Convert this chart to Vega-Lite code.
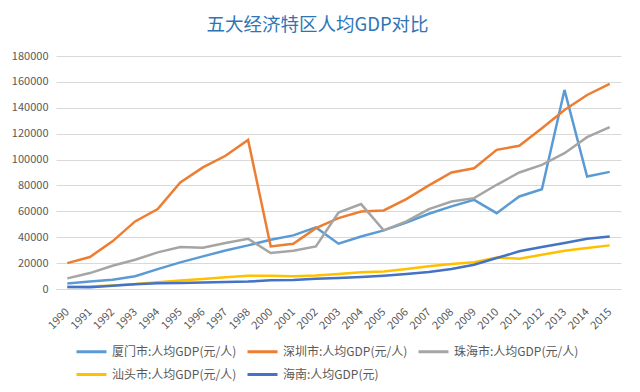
{
  "$schema": "https://vega.github.io/schema/vega-lite/v6.json",
  "width": 565,
  "height": 233,
  "padding": {"left": 11, "top": 15, "right": 17, "bottom": 5},
  "background": "white",
  "title": {
    "text": "五大经济特区人均GDP对比",
    "font": "Noto Sans CJK SC",
    "fontSize": 18.5,
    "fontWeight": "normal",
    "color": "#2E75B6",
    "anchor": "middle",
    "offset": 16,
    "dx": -21
  },
  "config": {
    "view": {"stroke": null},
    "axis": {"labelFont": "Noto Sans CJK SC", "labelColor": "#595959", "labelFontSize": 11},
    "legend": {"labelFont": "Noto Sans CJK SC"}
  },
  "data": {
    "values": [
      {"年份": "1990", "城市": "厦门市:人均GDP(元/人)", "值": 4300},
      {"年份": "1991", "城市": "厦门市:人均GDP(元/人)", "值": 5800},
      {"年份": "1992", "城市": "厦门市:人均GDP(元/人)", "值": 7200},
      {"年份": "1993", "城市": "厦门市:人均GDP(元/人)", "值": 9800},
      {"年份": "1994", "城市": "厦门市:人均GDP(元/人)", "值": 15400},
      {"年份": "1995", "城市": "厦门市:人均GDP(元/人)", "值": 20600},
      {"年份": "1996", "城市": "厦门市:人均GDP(元/人)", "值": 25200},
      {"年份": "1997", "城市": "厦门市:人均GDP(元/人)", "值": 29800},
      {"年份": "1998", "城市": "厦门市:人均GDP(元/人)", "值": 33700},
      {"年份": "2000", "城市": "厦门市:人均GDP(元/人)", "值": 38100},
      {"年份": "2001", "城市": "厦门市:人均GDP(元/人)", "值": 41400},
      {"年份": "2002", "城市": "厦门市:人均GDP(元/人)", "值": 47600},
      {"年份": "2003", "城市": "厦门市:人均GDP(元/人)", "值": 35000},
      {"年份": "2004", "城市": "厦门市:人均GDP(元/人)", "值": 40600},
      {"年份": "2005", "城市": "厦门市:人均GDP(元/人)", "值": 45300},
      {"年份": "2006", "城市": "厦门市:人均GDP(元/人)", "值": 51400},
      {"年份": "2007", "城市": "厦门市:人均GDP(元/人)", "值": 58100},
      {"年份": "2008", "城市": "厦门市:人均GDP(元/人)", "值": 63800},
      {"年份": "2009", "城市": "厦门市:人均GDP(元/人)", "值": 68900},
      {"年份": "2010", "城市": "厦门市:人均GDP(元/人)", "值": 58600},
      {"年份": "2011", "城市": "厦门市:人均GDP(元/人)", "值": 71500},
      {"年份": "2012", "城市": "厦门市:人均GDP(元/人)", "值": 77100},
      {"年份": "2013", "城市": "厦门市:人均GDP(元/人)", "值": 153800},
      {"年份": "2014", "城市": "厦门市:人均GDP(元/人)", "值": 86900},
      {"年份": "2015", "城市": "厦门市:人均GDP(元/人)", "值": 90500},

      {"年份": "1990", "城市": "深圳市:人均GDP(元/人)", "值": 20000},
      {"年份": "1991", "城市": "深圳市:人均GDP(元/人)", "值": 24700},
      {"年份": "1992", "城市": "深圳市:人均GDP(元/人)", "值": 36800},
      {"年份": "1993", "城市": "深圳市:人均GDP(元/人)", "值": 52200},
      {"年份": "1994", "城市": "深圳市:人均GDP(元/人)", "值": 61700},
      {"年份": "1995", "城市": "深圳市:人均GDP(元/人)", "值": 82300},
      {"年份": "1996", "城市": "深圳市:人均GDP(元/人)", "值": 93900},
      {"年份": "1997", "城市": "深圳市:人均GDP(元/人)", "值": 102900},
      {"年份": "1998", "城市": "深圳市:人均GDP(元/人)", "值": 115200},
      {"年份": "2000", "城市": "深圳市:人均GDP(元/人)", "值": 32900},
      {"年份": "2001", "城市": "深圳市:人均GDP(元/人)", "值": 35000},
      {"年份": "2002", "城市": "深圳市:人均GDP(元/人)", "值": 47000},
      {"年份": "2003", "城市": "深圳市:人均GDP(元/人)", "值": 54800},
      {"年份": "2004", "城市": "深圳市:人均GDP(元/人)", "值": 59900},
      {"年份": "2005", "城市": "深圳市:人均GDP(元/人)", "值": 60700},
      {"年份": "2006", "城市": "深圳市:人均GDP(元/人)", "值": 69400},
      {"年份": "2007", "城市": "深圳市:人均GDP(元/人)", "值": 80000},
      {"年份": "2008", "城市": "深圳市:人均GDP(元/人)", "值": 90000},
      {"年份": "2009", "城市": "深圳市:人均GDP(元/人)", "值": 93300},
      {"年份": "2010", "城市": "深圳市:人均GDP(元/人)", "值": 107500},
      {"年份": "2011", "城市": "深圳市:人均GDP(元/人)", "值": 110600},
      {"年份": "2012", "城市": "深圳市:人均GDP(元/人)", "值": 124200},
      {"年份": "2013", "城市": "深圳市:人均GDP(元/人)", "值": 138300},
      {"年份": "2014", "城市": "深圳市:人均GDP(元/人)", "值": 149900},
      {"年份": "2015", "城市": "深圳市:人均GDP(元/人)", "值": 158400},

      {"年份": "1990", "城市": "珠海市:人均GDP(元/人)", "值": 8200},
      {"年份": "1991", "城市": "珠海市:人均GDP(元/人)", "值": 12300},
      {"年份": "1992", "城市": "珠海市:人均GDP(元/人)", "值": 18000},
      {"年份": "1993", "城市": "珠海市:人均GDP(元/人)", "值": 22600},
      {"年份": "1994", "城市": "珠海市:人均GDP(元/人)", "值": 28300},
      {"年份": "1995", "城市": "珠海市:人均GDP(元/人)", "值": 32400},
      {"年份": "1996", "城市": "珠海市:人均GDP(元/人)", "值": 31900},
      {"年份": "1997", "城市": "珠海市:人均GDP(元/人)", "值": 35500},
      {"年份": "1998", "城市": "珠海市:人均GDP(元/人)", "值": 38800},
      {"年份": "2000", "城市": "珠海市:人均GDP(元/人)", "值": 27800},
      {"年份": "2001", "城市": "珠海市:人均GDP(元/人)", "值": 29600},
      {"年份": "2002", "城市": "珠海市:人均GDP(元/人)", "值": 32900},
      {"年份": "2003", "城市": "珠海市:人均GDP(元/人)", "值": 59100},
      {"年份": "2004", "城市": "珠海市:人均GDP(元/人)", "值": 65600},
      {"年份": "2005", "城市": "珠海市:人均GDP(元/人)", "值": 45300},
      {"年份": "2006", "城市": "珠海市:人均GDP(元/人)", "值": 52200},
      {"年份": "2007", "城市": "珠海市:人均GDP(元/人)", "值": 61700},
      {"年份": "2008", "城市": "珠海市:人均GDP(元/人)", "值": 67600},
      {"年份": "2009", "城市": "珠海市:人均GDP(元/人)", "值": 70200},
      {"年份": "2010", "城市": "珠海市:人均GDP(元/人)", "值": 80500},
      {"年份": "2011", "城市": "珠海市:人均GDP(元/人)", "值": 90000},
      {"年份": "2012", "城市": "珠海市:人均GDP(元/人)", "值": 95900},
      {"年份": "2013", "城市": "珠海市:人均GDP(元/人)", "值": 104900},
      {"年份": "2014", "城市": "珠海市:人均GDP(元/人)", "值": 117300},
      {"年份": "2015", "城市": "珠海市:人均GDP(元/人)", "值": 125000},

      {"年份": "1990", "城市": "汕头市:人均GDP(元/人)", "值": 1500},
      {"年份": "1991", "城市": "汕头市:人均GDP(元/人)", "值": 2000},
      {"年份": "1992", "城市": "汕头市:人均GDP(元/人)", "值": 2800},
      {"年份": "1993", "城市": "汕头市:人均GDP(元/人)", "值": 3800},
      {"年份": "1994", "城市": "汕头市:人均GDP(元/人)", "值": 5200},
      {"年份": "1995", "城市": "汕头市:人均GDP(元/人)", "值": 6500},
      {"年份": "1996", "城市": "汕头市:人均GDP(元/人)", "值": 7800},
      {"年份": "1997", "城市": "汕头市:人均GDP(元/人)", "值": 9000},
      {"年份": "1998", "城市": "汕头市:人均GDP(元/人)", "值": 10200},
      {"年份": "2000", "城市": "汕头市:人均GDP(元/人)", "值": 10300},
      {"年份": "2001", "城市": "汕头市:人均GDP(元/人)", "值": 9800},
      {"年份": "2002", "城市": "汕头市:人均GDP(元/人)", "值": 10500},
      {"年份": "2003", "城市": "汕头市:人均GDP(元/人)", "值": 11600},
      {"年份": "2004", "城市": "汕头市:人均GDP(元/人)", "值": 12900},
      {"年份": "2005", "城市": "汕头市:人均GDP(元/人)", "值": 13600},
      {"年份": "2006", "城市": "汕头市:人均GDP(元/人)", "值": 15400},
      {"年份": "2007", "城市": "汕头市:人均GDP(元/人)", "值": 17500},
      {"年份": "2008", "城市": "汕头市:人均GDP(元/人)", "值": 19300},
      {"年份": "2009", "城市": "汕头市:人均GDP(元/人)", "值": 20600},
      {"年份": "2010", "城市": "汕头市:人均GDP(元/人)", "值": 24400},
      {"年份": "2011", "城市": "汕头市:人均GDP(元/人)", "值": 23400},
      {"年份": "2012", "城市": "汕头市:人均GDP(元/人)", "值": 26500},
      {"年份": "2013", "城市": "汕头市:人均GDP(元/人)", "值": 29600},
      {"年份": "2014", "城市": "汕头市:人均GDP(元/人)", "值": 31600},
      {"年份": "2015", "城市": "汕头市:人均GDP(元/人)", "值": 33700},

      {"年份": "1990", "城市": "海南:人均GDP(元)", "值": 1500},
      {"年份": "1991", "城市": "海南:人均GDP(元)", "值": 1300},
      {"年份": "1992", "城市": "海南:人均GDP(元)", "值": 2600},
      {"年份": "1993", "城市": "海南:人均GDP(元)", "值": 3600},
      {"年份": "1994", "城市": "海南:人均GDP(元)", "值": 4400},
      {"年份": "1995", "城市": "海南:人均GDP(元)", "值": 4600},
      {"年份": "1996", "城市": "海南:人均GDP(元)", "值": 5100},
      {"年份": "1997", "城市": "海南:人均GDP(元)", "值": 5400},
      {"年份": "1998", "城市": "海南:人均GDP(元)", "值": 5700},
      {"年份": "2000", "城市": "海南:人均GDP(元)", "值": 6700},
      {"年份": "2001", "城市": "海南:人均GDP(元)", "值": 6900},
      {"年份": "2002", "城市": "海南:人均GDP(元)", "值": 8000},
      {"年份": "2003", "城市": "海南:人均GDP(元)", "值": 8500},
      {"年份": "2004", "城市": "海南:人均GDP(元)", "值": 9300},
      {"年份": "2005", "城市": "海南:人均GDP(元)", "值": 10300},
      {"年份": "2006", "城市": "海南:人均GDP(元)", "值": 11600},
      {"年份": "2007", "城市": "海南:人均GDP(元)", "值": 13100},
      {"年份": "2008", "城市": "海南:人均GDP(元)", "值": 15400},
      {"年份": "2009", "城市": "海南:人均GDP(元)", "值": 18800},
      {"年份": "2010", "城市": "海南:人均GDP(元)", "值": 23900},
      {"年份": "2011", "城市": "海南:人均GDP(元)", "值": 29100},
      {"年份": "2012", "城市": "海南:人均GDP(元)", "值": 32400},
      {"年份": "2013", "城市": "海南:人均GDP(元)", "值": 35500},
      {"年份": "2014", "城市": "海南:人均GDP(元)", "值": 38800},
      {"年份": "2015", "城市": "海南:人均GDP(元)", "值": 40600}
    ]
  },
  "mark": {"type": "line", "strokeWidth": 2.5},
  "encoding": {
    "x": {
      "field": "年份",
      "type": "ordinal",
      "sort": null,
      "scale": {"padding": 0.5},
      "axis": {
        "title": null,
        "labelAngle": -45,
        "labelAlign": "right",
        "labelBaseline": "middle",
        "ticks": false,
        "grid": false,
        "domainColor": "#D9D9D9",
        "domainWidth": 1,
        "labelPadding": 21
      }
    },
    "y": {
      "field": "值",
      "type": "quantitative",
      "scale": {"domain": [0, 180000], "nice": false},
      "axis": {
        "title": null,
        "values": [0, 20000, 40000, 60000, 80000, 100000, 120000, 140000, 160000, 180000],
        "format": "d",
        "domain": false,
        "ticks": false,
        "gridColor": "#D9D9D9",
        "labelPadding": 8
      }
    },
    "color": {
      "field": "城市",
      "type": "nominal",
      "sort": null,
      "scale": {
        "domain": ["厦门市:人均GDP(元/人)", "深圳市:人均GDP(元/人)", "珠海市:人均GDP(元/人)", "汕头市:人均GDP(元/人)", "海南:人均GDP(元)"],
        "range": ["#5B9BD5", "#ED7D31", "#A5A5A5", "#FFC000", "#4472C4"]
      },
      "legend": {
        "title": null,
        "orient": "none",
        "direction": "horizontal",
        "legendX": 19,
        "legendY": 279,
        "columns": 3,
        "symbolType": "stroke",
        "symbolStrokeWidth": 3,
        "symbolSize": 900,
        "labelFontSize": 12,
        "labelColor": "#595959",
        "columnPadding": 4,
        "rowPadding": -8
      }
    }
  }
}
